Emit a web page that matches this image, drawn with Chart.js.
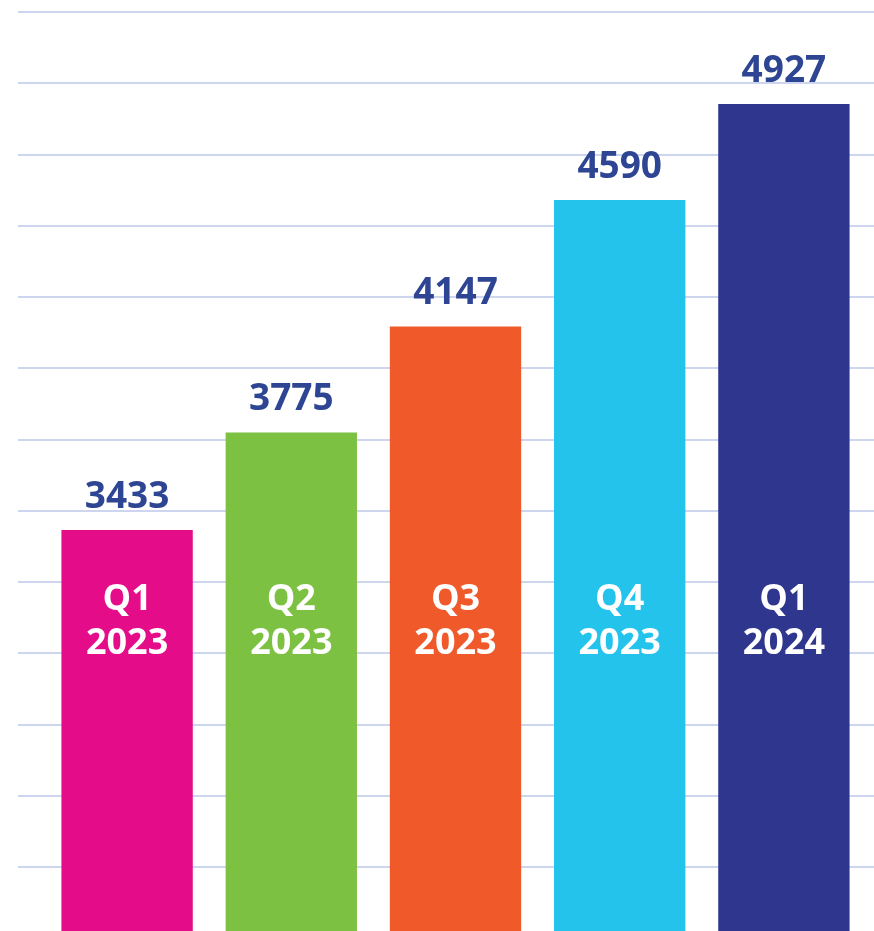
<!DOCTYPE html>
<html>
<head>
<meta charset="utf-8">
<script src="https://cdn.jsdelivr.net/npm/chart.js@4.4.1/dist/chart.umd.min.js"></script>
<style>
  html, body { margin: 0; padding: 0; background: #ffffff; }
  canvas { display: block; }
</style>
</head>
<body>
<canvas id="c" width="874" height="931"></canvas>
<script>
// ---- data ----
const quarters = ['Q1', 'Q2', 'Q3', 'Q4', 'Q1'];
const years = ['2023', '2023', '2023', '2023', '2024'];
const values = [3433, 3775, 4147, 4590, 4927];
const barColors = ['#e50c89', '#7dc143', '#f05a2b', '#23c3ec', '#2f368d'];
const gridValues = [2250, 2500, 2750, 3000, 3250, 3500, 3750, 4000, 4250, 4500, 4750, 5000, 5250];
const axisMin = 2026;
const axisMax = 5292;

const categories = quarters.map((q, i) => q + ' ' + years[i]);

const gridColor = '#cdd5ef';
const valueColor = '#2e4593';
const fontFamily = '"Open Sans", "Noto Sans", sans-serif';

const labelPlugin = {
  id: 'barLabels',
  afterDatasetsDraw(chart) {
    const ctx = chart.ctx;
    const meta = chart.getDatasetMeta(0);
    const area = chart.chartArea;
    ctx.save();
    ctx.textAlign = 'center';
    ctx.textBaseline = 'alphabetic';
    meta.data.forEach((bar, i) => {
      // value above bar
      ctx.fillStyle = valueColor;
      ctx.font = 'bold 37px ' + fontFamily;
      ctx.fillText(String(values[i]), bar.x, bar.y - 22);
      // quarter / year inside bar
      ctx.fillStyle = '#ffffff';
      ctx.font = 'bold 36px ' + fontFamily;
      ctx.fillText(quarters[i], bar.x, area.top + 610);
      ctx.fillText(years[i], bar.x, area.top + 654);
    });
    ctx.restore();
  }
};

function gridTicks(scale) {
  scale.ticks = gridValues.map(v => ({ value: v }));
}

new Chart(document.getElementById('c'), {
  type: 'bar',
  data: {
    labels: categories,
    datasets: [{
      data: values,
      backgroundColor: barColors,
      borderWidth: 0,
      barPercentage: 0.8,
      categoryPercentage: 1.0
    }]
  },
  options: {
    responsive: false,
    animation: false,
    devicePixelRatio: 1,
    layout: { padding: { left: 18, right: 0, top: 0, bottom: 0 } },
    plugins: {
      legend: { display: false },
      tooltip: { enabled: false },
      title: { display: false }
    },
    scales: {
      x: {
        display: false
      },
      y: {
        position: 'left',
        min: axisMin,
        max: axisMax,
        border: { display: false },
        grid: {
          color: gridColor,
          lineWidth: 2,
          drawTicks: true,
          tickLength: 27
        },
        ticks: { display: false },
        afterBuildTicks: gridTicks
      },
      y2: {
        position: 'right',
        min: axisMin,
        max: axisMax,
        border: { display: false },
        grid: {
          color: gridColor,
          lineWidth: 2,
          drawOnChartArea: false,
          drawTicks: true,
          tickLength: 8
        },
        ticks: { display: false },
        afterBuildTicks: gridTicks
      }
    }
  },
  plugins: [labelPlugin]
});
</script>
</body>
</html>
